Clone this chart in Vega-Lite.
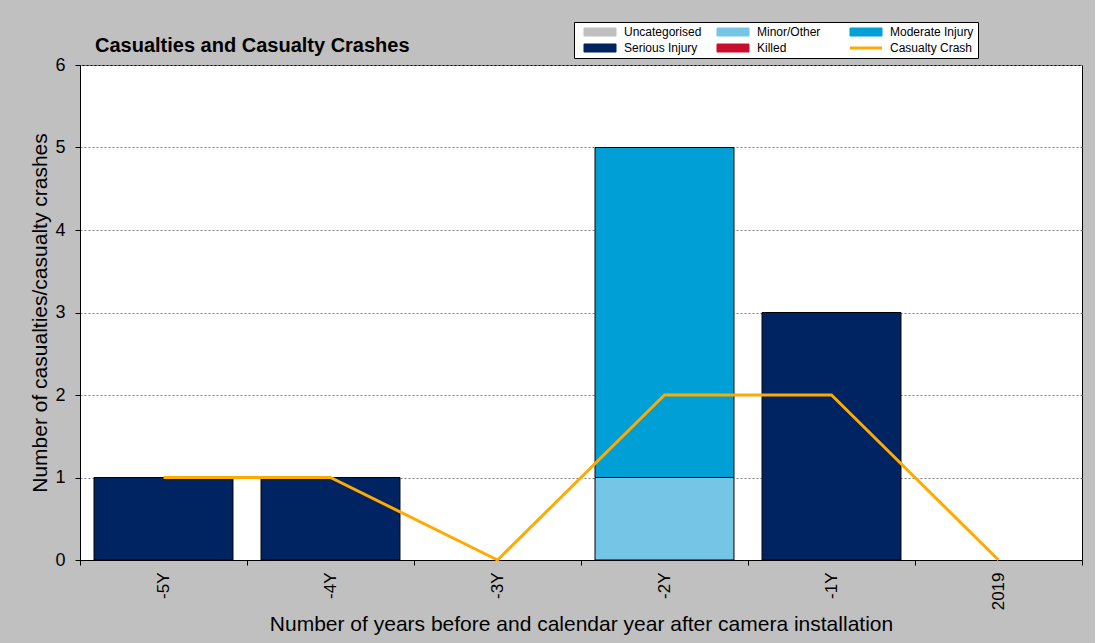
{
  "$schema": "https://vega.github.io/schema/vega-lite/v6.json",
  "width": 1002,
  "height": 495,
  "autosize": {"type": "none"},
  "padding": {"left": 80, "top": 65, "right": 13, "bottom": 83},
  "background": "#c0c0c0",
  "title": {
    "text": "Casualties and Casualty Crashes",
    "anchor": "start",
    "frame": "group",
    "dx": 15,
    "dy": 65,
    "offset": 15,
    "baseline": "alphabetic",
    "font": "Liberation Sans",
    "fontSize": 20,
    "fontWeight": "bold",
    "color": "black"
  },
  "config": {
    "font": "Liberation Sans",
    "view": {"stroke": "black", "strokeWidth": 1, "fill": "white"}
  },
  "data": {
    "values": [
      {"year": "-5Y", "series": "Serious Injury", "count": 1},
      {"year": "-4Y", "series": "Serious Injury", "count": 1},
      {"year": "-2Y", "series": "Minor/Other", "count": 1},
      {"year": "-2Y", "series": "Moderate Injury", "count": 4},
      {"year": "-1Y", "series": "Serious Injury", "count": 3},
      {"year": "-5Y", "series": "Casualty Crash", "count": 1},
      {"year": "-4Y", "series": "Casualty Crash", "count": 1},
      {"year": "-3Y", "series": "Casualty Crash", "count": 0},
      {"year": "-2Y", "series": "Casualty Crash", "count": 2},
      {"year": "-1Y", "series": "Casualty Crash", "count": 2},
      {"year": "2019", "series": "Casualty Crash", "count": 0}
    ]
  },
  "encoding": {
    "x": {
      "field": "year",
      "type": "nominal",
      "sort": ["-5Y", "-4Y", "-3Y", "-2Y", "-1Y", "2019"],
      "scale": {"domain": ["-5Y", "-4Y", "-3Y", "-2Y", "-1Y", "2019"], "paddingInner": 0, "paddingOuter": 0},
      "axis": {
        "title": "Number of years before and calendar year after camera installation",
        "titleFontSize": 21,
        "titleFontWeight": "normal",
        "titleColor": "black",
        "titlePadding": 4,
        "labelAngle": -90,
        "labelFontSize": 17,
        "labelColor": "black",
        "labelPadding": 7,
        "tickSize": 5,
        "tickColor": "black",
        "domainColor": "black",
        "bandPosition": 1,
        "tickExtra": true,
        "grid": false
      }
    },
    "y": {
      "field": "count",
      "type": "quantitative",
      "scale": {"domain": [0, 6], "nice": false},
      "axis": {
        "title": "Number of casualties/casualty crashes",
        "titleFontSize": 21,
        "titleFontWeight": "normal",
        "titleColor": "black",
        "titlePadding": 4,
        "values": [0, 1, 2, 3, 4, 5, 6],
        "labelFontSize": 18,
        "labelColor": "black",
        "labelPadding": 10,
        "tickSize": 5,
        "tickColor": "black",
        "domainColor": "black",
        "grid": true,
        "gridColor": "#808080",
        "gridDash": [2, 2],
        "gridWidth": 1
      }
    },
    "color": {
      "field": "series",
      "type": "nominal",
      "scale": {
        "domain": ["Uncategorised", "Minor/Other", "Moderate Injury", "Serious Injury", "Killed", "Casualty Crash"],
        "range": ["#c0c0c0", "#75c6e6", "#00a0d6", "#002361", "#c8102e", "#ffaa00"]
      },
      "legend": {
        "orient": "none",
        "direction": "horizontal",
        "legendX": 494,
        "legendY": -43,
        "columns": 3,
        "title": null,
        "fillColor": "white",
        "strokeColor": "black",
        "padding": 4,
        "rowPadding": 4,
        "columnPadding": 3,
        "gridAlign": "all",
        "symbolSize": 64,
        "labelOffset": 34,
        "labelFontSize": 12,
        "labelColor": "black",
        "labelFont": "Liberation Sans",
        "encode": {
          "symbols": {
            "update": {
              "shape": {"signal": "datum.value === 'Casualty Crash' ? 'M0,0H8' : 'M0,-1H8V1H0Z'"},
              "stroke": {"signal": "datum.value === 'Casualty Crash' ? '#ffaa00' : 'black'"},
              "strokeWidth": {"signal": "datum.value === 'Casualty Crash' ? 3 : 1"},
              "fill": {"signal": "datum.value === 'Casualty Crash' ? 'transparent' : scale('color', datum.value)"},
              "opacity": {"value": 1},
              "fillOpacity": {"value": 1},
              "strokeOpacity": {"value": 1}
            }
          }
        }
      }
    }
  },
  "layer": [
    {
      "transform": [{"filter": "datum.series !== 'Casualty Crash'"}],
      "mark": {"type": "bar", "width": {"band": 0.832}, "stroke": "black", "strokeWidth": 1},
      "encoding": {
        "order": {"field": "count", "sort": "ascending"}
      }
    },
    {
      "transform": [{"filter": "datum.series === 'Casualty Crash'"}],
      "mark": {"type": "line", "strokeWidth": 3},
      "encoding": {}
    }
  ]
}
